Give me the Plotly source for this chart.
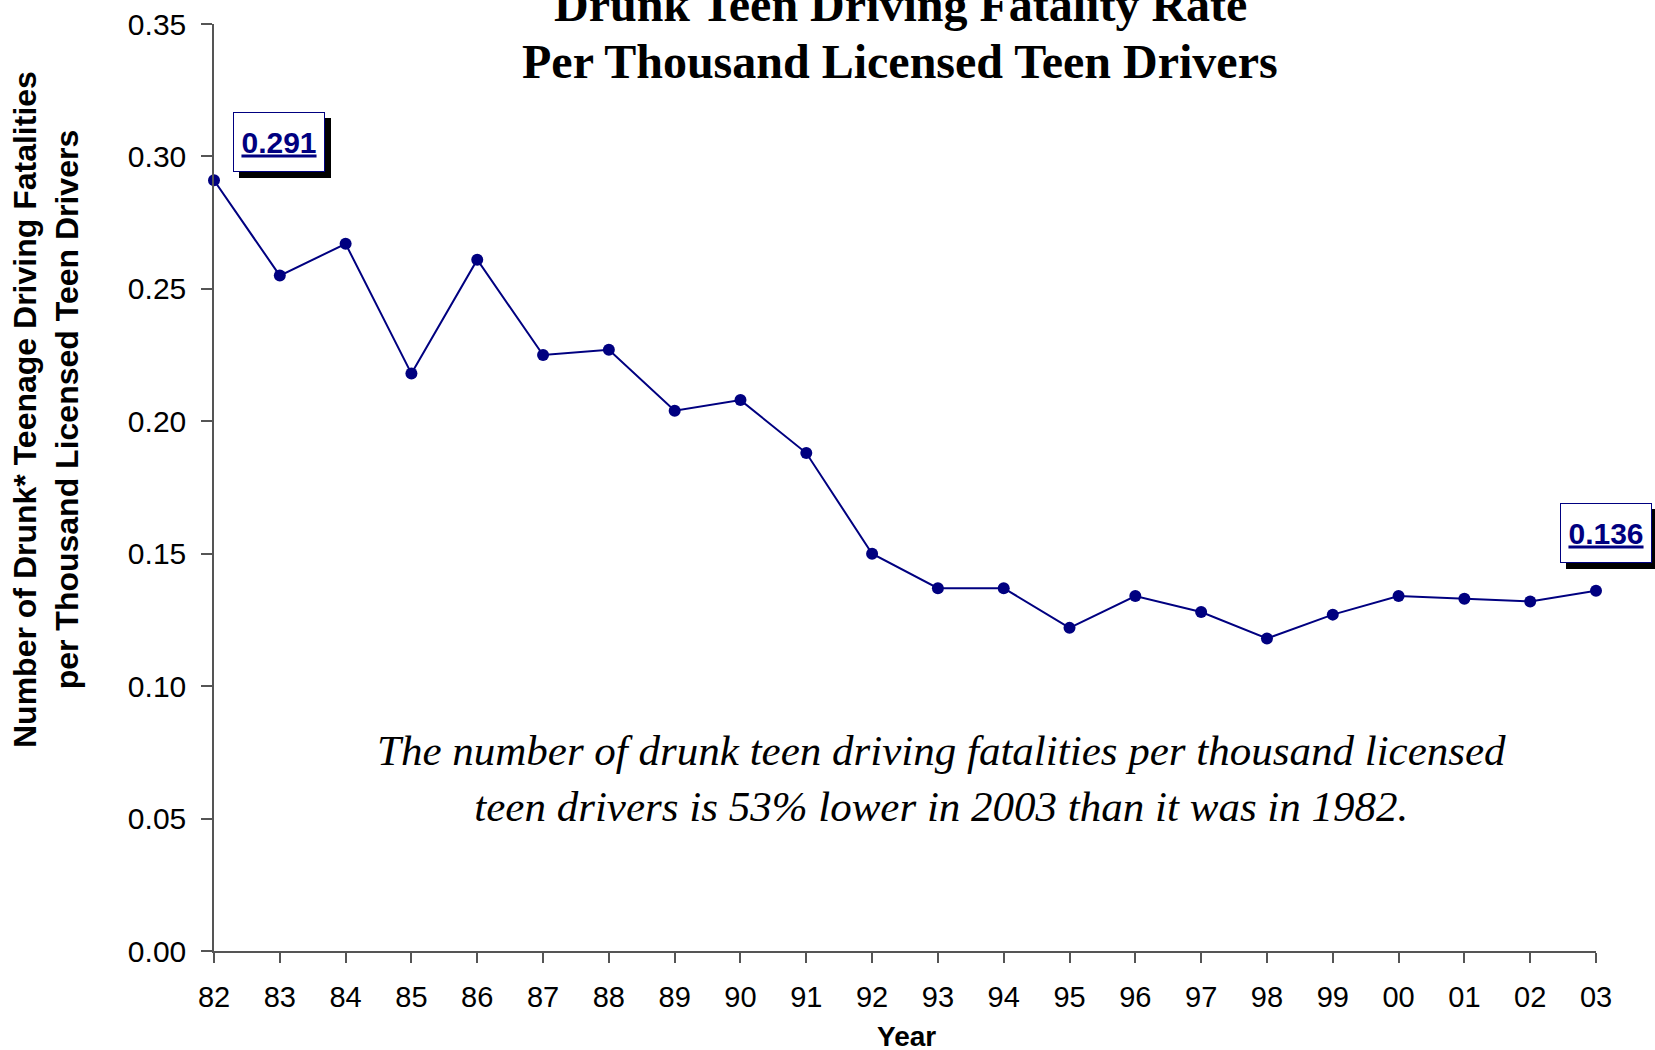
import plotly.graph_objects as go

years = ["82", "83", "84", "85", "86", "87", "88", "89", "90", "91", "92",
         "93", "94", "95", "96", "97", "98", "99", "00", "01", "02", "03"]
rates = [0.291, 0.255, 0.267, 0.218, 0.261, 0.225, 0.227, 0.204, 0.208, 0.188, 0.150,
         0.137, 0.137, 0.122, 0.134, 0.128, 0.118, 0.127, 0.134, 0.133, 0.132, 0.136]
y_ticks = [0.00, 0.05, 0.10, 0.15, 0.20, 0.25, 0.30, 0.35]
y_ticklabels = ["0.00", "0.05", "0.10", "0.15", "0.20", "0.25", "0.30", "0.35"]

title_lines = ["Drunk Teen Driving Fatality Rate", "Per Thousand Licensed Teen Drivers"]
ytitle_text = "Number of Drunk* Teenage Driving Fatalities<br>per Thousand Licensed Teen Drivers"
xtitle_text = "Year"
note_text = ("The number of drunk teen driving fatalities per thousand licensed<br>"
             "teen drivers is 53% lower in 2003 than it was in 1982.")

NAVY = "#000080"
AXC = "#555555"

fig = go.Figure()
fig.add_trace(go.Scatter(
    x=years, y=rates, mode="lines+markers",
    line=dict(color=NAVY, width=2),
    marker=dict(color=NAVY, size=12),
    cliponaxis=False, showlegend=False, hoverinfo="x+y",
))

# body margin is removed by the post script, so the figure starts at (0, 0)
OFF = 0
W, H = 1655, 1050
PL, PR, PT, PB = 214, 1596, 24, 951          # plot box in screenshot pixels
L, T = PL - OFF, PT - OFF
R = W - (PR - OFF)
B = H - (PB - OFF)
pw, ph = PR - PL, PB - PT

def px(xp):
    return (xp - PL) / pw

def py(yp):
    return (PB - yp) / ph

SERIF = "Liberation Serif, Times New Roman, serif"
SANS = "Liberation Sans, Arial, sans-serif"

annotations = []
for line, yc in zip(title_lines, [5, 61]):
    annotations.append(dict(
        text="<b>" + line + "</b>", xref="paper", yref="paper",
        x=px(900), y=py(yc), xanchor="center", yanchor="middle", showarrow=False,
        font=dict(family=SERIF, size=48, color="black"),
    ))
annotations.append(dict(
    text="<b>" + ytitle_text + "</b>", xref="paper", yref="paper",
    x=px(46), y=py(410), xanchor="center", yanchor="middle", showarrow=False,
    textangle=-90,
    font=dict(family=SANS, size=32, color="black"),
))
annotations.append(dict(
    text="<b>" + xtitle_text + "</b>", xref="paper", yref="paper",
    x=px(906), y=py(1036), xanchor="center", yanchor="middle", showarrow=False,
    font=dict(family=SANS, size=28, color="black"),
))
annotations.append(dict(
    text="<i>" + note_text + "</i>", xref="paper", yref="paper",
    x=px(941), y=py(778), xanchor="center", yanchor="middle", showarrow=False,
    font=dict(family=SERIF, size=43, color="black"),
))

def value_box(idx, dx, dy):
    label = f"<b><u>{rates[idx]:.3f}</u></b>"
    common = dict(x=idx, y=rates[idx], xref="x", yref="y", showarrow=False,
                  xanchor="center", yanchor="middle", width=78, height=46,
                  borderpad=6, borderwidth=1)
    shadow = dict(common, text=label, xshift=dx + 6, yshift=dy - 6,
                  bgcolor="black", bordercolor="black",
                  font=dict(family=SANS, size=30, color="black"))
    main = dict(common, text=label, xshift=dx, yshift=dy,
                bgcolor="white", bordercolor=NAVY,
                font=dict(family=SANS, size=30, color=NAVY))
    return [shadow, main]

annotations += value_box(0, 65, 38)
annotations += value_box(len(rates) - 1, 10, 58)

fig.update_layout(
    width=W, height=H,
    margin=dict(l=L, r=R, t=T, b=B, pad=0),
    paper_bgcolor="white", plot_bgcolor="white",
    font=dict(family=SANS, color="black"),
    xaxis=dict(
        type="category", range=[0, len(years) - 1], automargin=False,
        showgrid=False, zeroline=False,
        showline=True, linecolor=AXC, linewidth=1.5,
        ticks="outside", ticklen=10, tickcolor=AXC, tickwidth=1.5,
        tickfont=dict(family=SANS, size=29, color="black"),
        ticklabelstandoff=9, ticklabeloverflow="allow",
    ),
    yaxis=dict(
        range=[0, 0.35], tickmode="array", tickvals=y_ticks, ticktext=y_ticklabels,
        automargin=False,
        showgrid=False, zeroline=False,
        showline=True, linecolor=AXC, linewidth=1.5,
        ticks="outside", ticklen=11, tickcolor=AXC, tickwidth=1.5,
        tickfont=dict(family=SANS, size=30, color="black"),
        ticklabelstandoff=9, ticklabeloverflow="allow",
    ),
    xaxis2=dict(
        overlaying="x", anchor="y", side="bottom", range=[0, len(years) - 1],
        tickvals=list(range(len(years))), showticklabels=False, automargin=False,
        ticks="inside", ticklen=10, tickcolor=AXC, tickwidth=1.5,
        showgrid=False, zeroline=False, showline=False,
    ),
    yaxis2=dict(
        overlaying="y", anchor="x", side="left", range=[0, 0.35],
        tickmode="array", tickvals=y_ticks,
        showticklabels=False, automargin=False,
        ticks="inside", ticklen=11, tickcolor=AXC, tickwidth=1.5,
        showgrid=False, zeroline=False, showline=False,
    ),
    annotations=annotations,
)

fig.write_html(
    "out.html",
    config={"displayModeBar": False},
    post_script="document.body.style.margin='0';document.body.style.overflow='hidden';",
)
